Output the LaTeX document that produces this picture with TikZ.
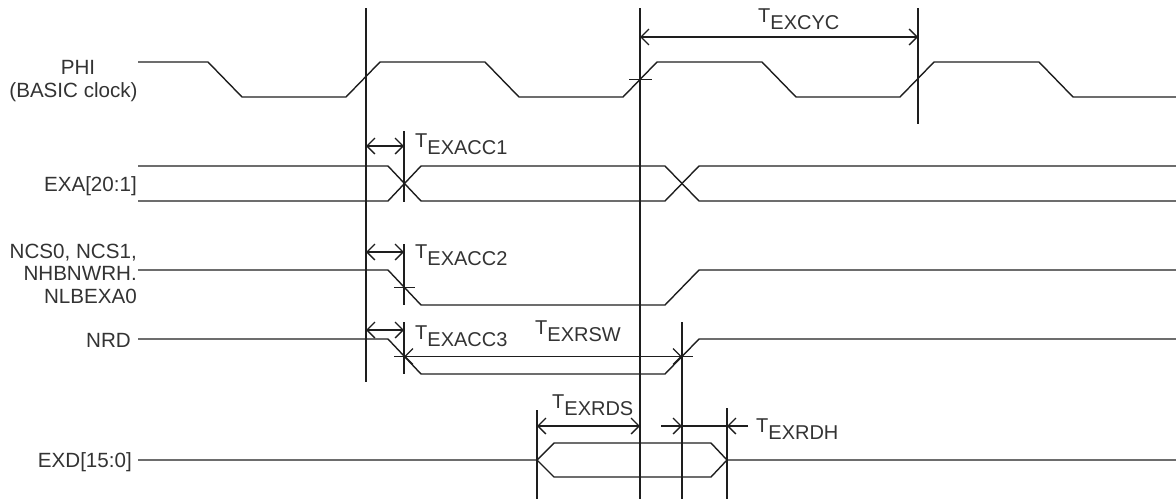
\documentclass[tikz,border=0pt]{standalone}
\usepackage{fontspec}
\setmainfont{Liberation Sans}
\usetikzlibrary{arrows.meta}
\definecolor{ink}{HTML}{1E1E1E}
\definecolor{txt}{HTML}{333333}
\begin{document}
\begin{tikzpicture}[x=1pt,y=-1pt,
  sig/.style={draw=ink, line width=1.4pt, line join=miter},
  vline/.style={draw=ink, line width=1.4pt},
  dim/.style={draw=ink, line width=1.3pt, {Straight Barb[length=8pt,width=16pt]}-{Straight Barb[length=8pt,width=16pt]}},
  dimR/.style={draw=ink, line width=1.3pt, -{Straight Barb[length=8pt,width=16pt]}},
  lbl/.style={text=txt, font=\fontsize{20.6}{23}\selectfont, inner sep=0pt},
  tlbl/.style={text=txt, font=\fontsize{20}{23}\selectfont, inner sep=0pt, anchor=base west}]
\useasboundingbox (0,0) rectangle (1176,499);

% ---- signal labels ----
\node[lbl, anchor=base] (phiA) at (78,74) {PHI};
\node[lbl, anchor=base] (phiB) at (73.5,97) {(BASIC clock)};
\node[lbl, anchor=base east] (exa) at (137,191) {EXA[20:1]};
\node[lbl, anchor=base east] (ncsA) at (137,258) {NCS0, NCS1,};
\node[lbl, anchor=base east] (ncsB) at (137,280) {NHBNWRH.};
\node[lbl, anchor=base east] (ncsC) at (137,303) {NLBEXA0};
\node[lbl, anchor=base east] (nrd) at (131,347) {NRD};
\node[lbl, anchor=base east] (exd) at (132,467) {EXD[15:0]};

% ---- waveforms ----
% PHI
\draw[sig] (138,62)--(208,62)--(242,97)--(346,97)--(380,62)--(485,62)--(519,97)--(623,97)--(657,62)--(762,62)--(796,97)--(900,97)--(934,62)--(1039,62)--(1073,97)--(1176,97);
% EXA
\draw[sig] (138,166)--(388,166)--(421,201)--(665,201)--(699,166)--(1176,166);
\draw[sig] (138,201)--(388,201)--(421,166)--(665,166)--(699,201)--(1176,201);
% NCS
\draw[sig] (138,270)--(388,270)--(421,305)--(665,305)--(699,270)--(1176,270);
% NRD
\draw[sig] (138,339)--(388,339)--(421,374)--(665,374)--(699,339)--(1176,339);
% EXD
\draw[sig] (138,460)--(537,460)--(554,443)--(711,443)--(727,460)--(1176,460);
\draw[sig] (537,460)--(554,477)--(711,477)--(727,460);

% ---- reference lines ----
\coordinate (v1t) at (366,8);   \coordinate (v1b) at (366,382);
\coordinate (v2t) at (640,8);   \coordinate (v2b) at (640,499);
\coordinate (v3t) at (918,8);   \coordinate (v3b) at (918,124);
\coordinate (a1t) at (404,131); \coordinate (a1b) at (404,202);
\coordinate (a2t) at (404,244); \coordinate (a2b) at (404,305);
\coordinate (a3t) at (404,322); \coordinate (a3b) at (404,374);
\coordinate (rswt) at (682,322); \coordinate (rswb) at (682,499);
\coordinate (dst) at (537,410); \coordinate (dsb) at (537,499);
\coordinate (dht) at (727,408); \coordinate (dhb) at (727,499);
\draw[vline] (v1t)--(v1b);
\draw[vline] (v2t)--(v2b);
\draw[vline] (v3t)--(v3b);
\draw[vline] (a1t)--(a1b);
\draw[vline] (a2t)--(a2b);
\draw[vline] (a3t)--(a3b);
\draw[vline] (rswt)--(rswb);
\draw[vline] (dst)--(dsb);
\draw[vline] (dht)--(dhb);

% small horizontal ticks at crossings
\coordinate (k1a) at (629,79.5); \coordinate (k1b) at (652,79.5);
\coordinate (k2a) at (394,287.5); \coordinate (k2b) at (415,287.5);
\coordinate (k3a) at (394,356.5); \coordinate (k3b) at (415,356.5);
\coordinate (k4a) at (672,356.5); \coordinate (k4b) at (693,356.5);
\draw[vline] (k1a)--(k1b);
\draw[vline] (k2a)--(k2b);
\draw[vline] (k3a)--(k3b);
\draw[vline] (k4a)--(k4b);

% ---- dimension arrows ----
\coordinate (cycL) at (640,37);  \coordinate (cycR) at (918,37);
\coordinate (c1L) at (366,146);  \coordinate (c1R) at (404,146);
\coordinate (c2L) at (366,252);  \coordinate (c2R) at (404,252);
\coordinate (c3L) at (366,330);  \coordinate (c3R) at (404,330);
\coordinate (rswL) at (404,356.5); \coordinate (rswR) at (682,356.5);
\coordinate (dsL) at (537,426);  \coordinate (dsR) at (640,426);
\coordinate (dhA) at (661,426);  \coordinate (dhB) at (682,426);
\coordinate (dhC) at (727,426);  \coordinate (dhD) at (748,426);
\draw[dim] (cycL)--(cycR);
\draw[dim] (c1L)--(c1R);
\draw[dim] (c2L)--(c2R);
\draw[dim] (c3L)--(c3R);
\draw[dim] (rswL)--(rswR);
\draw[dim] (dsL)--(dsR);
\draw[dimR] (dhA)--(dhB);
\draw[vline, line width=1.3pt] (dhB)--(dhC);
\draw[dimR] (dhD)--(dhC);

% ---- timing labels ----
\node[tlbl] (tcyc) at (758,22) {T\raisebox{-7.5pt}{EXCYC}};
\node[tlbl] (tacc1) at (415,147) {T\raisebox{-7.5pt}{EXACC1}};
\node[tlbl] (tacc2) at (415,258) {T\raisebox{-7.5pt}{EXACC2}};
\node[tlbl] (tacc3) at (415,339) {T\raisebox{-7.5pt}{EXACC3}};
\node[tlbl] (trsw) at (535,334) {T\raisebox{-7.5pt}{EXRSW}};
\node[tlbl] (trds) at (552,408) {T\raisebox{-7.5pt}{EXRDS}};
\node[tlbl] (trdh) at (756,432) {T\raisebox{-7.5pt}{EXRDH}};
\end{tikzpicture}
\end{document}
